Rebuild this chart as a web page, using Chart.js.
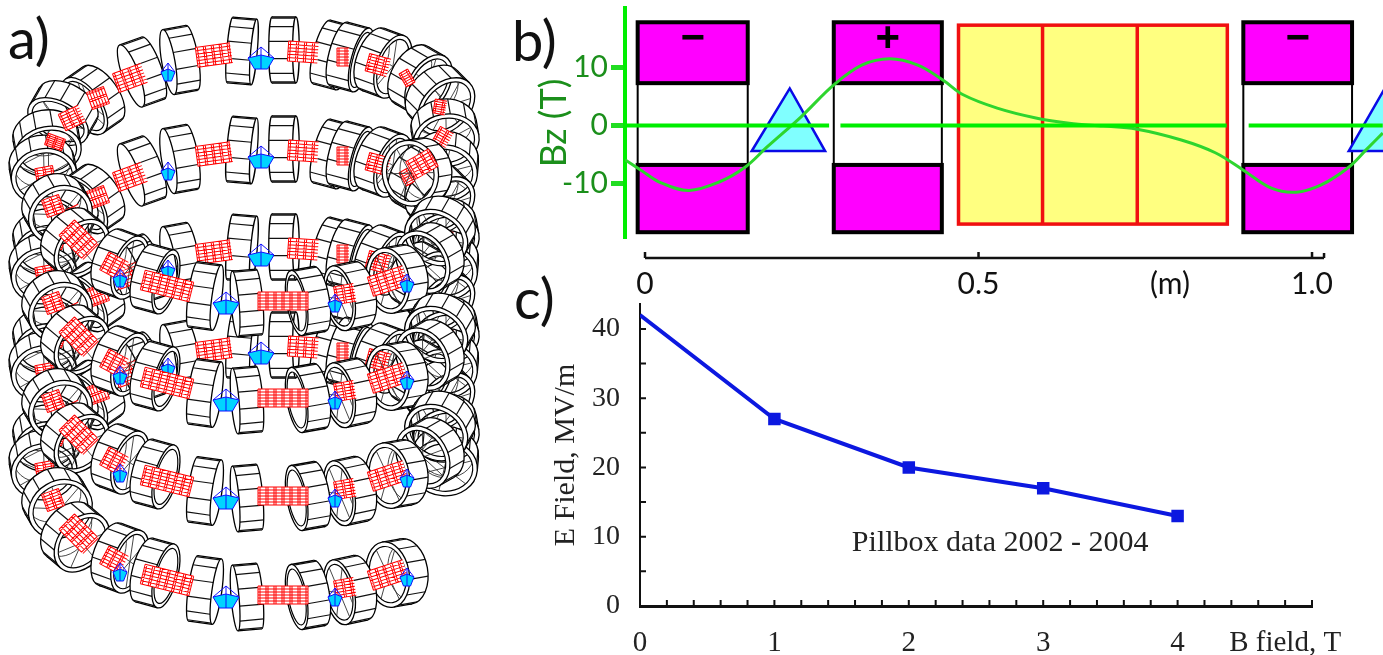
<!DOCTYPE html>
<html>
<head>
<meta charset="utf-8">
<title>Helical cooling channel</title>
<script src="https://cdn.jsdelivr.net/npm/chart.js@4/dist/chart.umd.min.js"></script>
<style>
    html, body { margin: 0; padding: 0; background: #fff; overflow: hidden; }
    canvas { position: absolute; }
    .panel { position: absolute; font: 56px Lato, sans-serif; color: #111; line-height: 1; }
</style>
</head>
<body>
<canvas id="helix" width="500" height="655" style="left:0;top:0"></canvas>
<canvas id="field" width="853" height="300" style="left:530px;top:0"></canvas>
<canvas id="gradient" width="853" height="365" style="left:530px;top:290px"></canvas>
<div class="panel" style="left:8px;top:10px">a)</div>
<div class="panel" style="left:512px;top:12px">b)</div>
<div class="panel" style="left:514px;top:270px">c)</div>
<script>
// Panel c: E field against B field
const bField = [0, 1, 2, 3, 4];
const eField = [42, 27, 20, 17, 13];
const eTicks = [0, 10, 20, 30, 40];
const eMinorTicks = [0, 5, 10, 15, 20, 25, 30, 35, 40];
const bTicks = [0, 1, 2, 3, 4, 4.8];
const bTickLabels = ['0', '1', '2', '3', '4', 'B field, T'];
const bMinorTicks = [0, 0.2, 0.4, 0.6, 0.8, 1, 1.2, 1.4, 1.6, 1.8, 2, 2.2, 2.4, 2.6, 2.8, 3, 3.2, 3.4, 3.6, 3.8, 4, 4.2, 4.4, 4.6, 4.8, 5];

// Panel b: on-axis Bz along one period, metres and tesla
const bzPos = [-0.03, -0.006, 0.024, 0.066, 0.112, 0.15, 0.183, 0.234, 0.283, 0.325, 0.367, 0.409, 0.447, 0.477, 0.528, 0.586, 0.636, 0.687, 0.736, 0.804, 0.855, 0.897, 0.939, 0.976, 1.013, 1.055, 1.081, 1.106];
const bzVal = [-5.9, -7.7, -9.9, -11.2, -9.7, -7.2, -3.7, 1.5, 7, 10.4, 11.5, 10.4, 7.8, 5.3, 3, 1.3, 0.4, -0.1, -0.6, -2.5, -4.7, -7.7, -10.8, -11.5, -10.3, -7.2, -4.2, -1.3];
const zeroLineX = [-0.03, 0.276, 0.285, 0.293, 0.872, 0.89, 0.905, 1.106];
const zeroLineY = [0, 0, null, 0, 0, null, 0, 0];
const bzTicks = [-10, 0, 10];
const posTicks = [0, 0.5, 0.787, 1];
const posTickLabels = ['0', '0.5', '(m)', '1.0'];
const rulerTicks = [0, 0.5, 1];
const magnetLeft = [-0.011, 0.283, 0.897];
const magnetRight = [0.154, 0.445, 1.06];
const magnetSigns = ['\u2212', '+', '\u2212'];
const magnetLevels = [17.8, 7.3, -6.8, -18.4];
const cavityEdges = [0.47, 0.596, 0.738, 0.873];
const cavityLevels = [17.3, -17];
const wedgeLeft = [0.16, 1.055];
const wedgeTip = [0.217, 1.109];
const wedgeRight = [0.27, 1.165];
const wedgeLevels = [6.4, -4.4];

// Panel a: coils, x and height relative to each row
const backRowY = [58, 157, 255, 353];
const frontRowY = [303, 400, 498, 597];
const backCoilX = [43, 47, 63, 93, 142, 180, 242, 284, 333, 350, 383, 420, 440, 445, 445];
const backCoilRise = [112, 85, 55, 42, 14, 2, -7, -8, -3, -1, 5, 22, 42, 75, 108];
const backCoilFace = [80, 80, 120, 145, 160, 170, 5, 0, 15, 15, 20, 30, 45, 80, 95];
const backCoilOpen = [0.85, 0.75, 0.6, 0.5, 0.25, 0.2, 0.1, 0.1, 0.25, 0.3, 0.5, 0.6, 0.7, 0.8, 0.85];
const frontCoilX = [57, 75, 120, 155, 205, 247, 308, 350, 397, 430, 440];
const frontCoilRise = [-94, -60, -39, -24, -7, 0, -2, -7, -24, -45, -72];
const frontCoilFace = [60, 40, 20, 15, 8, 175, 170, 168, 170, 150, 120];
const frontCoilOpen = [0.85, 0.7, 0.5, 0.35, 0.15, 0.12, 0.3, 0.45, 0.65, 0.75, 0.8];
const backTubeX = [45, 55, 72, 98, 130, 214, 303, 343, 378, 407, 440, 443];
const backTubeRise = [117, 84, 60, 40, 20, -3, -6, -1, 7, 20, 49, 79];
const backTubeLen = [18, 18, 22, 18, 30, 35, 30, 12, 22, 10, 12, 15];
const backTubeTilt = [-10, 20, -25, 70, -20, -8, 4, 0, 15, -30, 10, 30];
const backTubeWide = [16, 12, 18, 18, 20, 20, 20, 18, 18, 15, 14, 16];
const frontTubeX = [53, 78, 114, 167, 283, 345, 388];
const frontTubeRise = [-97, -64, -37, -17, -2, -9, -22];
const frontTubeLen = [18, 32, 22, 50, 50, 20, 37];
const frontTubeTilt = [-20, 45, 28, 14, 0, -10, -18];
const frontTubeWide = [18, 22, 20, 20, 18, 18, 20];
const backAbsorberX = [168, 261];
const backAbsorberRise = [14, 0];
const frontAbsorberX = [120, 226, 335, 407];
const frontAbsorberRise = [-25, 0, 0, -20];
const endRingX = [417];
const endRingY = [172];

const ink = '#000';

function toPoints(xs, ys) {
    return xs.map((x, i) => ({ x: x, y: ys[i] }));
}

function ellipsePath(ctx, x, y, major, minor, rot) {
    ctx.beginPath();
    ctx.ellipse(x, y, major, minor, rot, 0, Math.PI * 2);
}

// One short cylinder, visible face turned towards faceDeg. Open rings keep their hole see-through.
function drawCoil(ctx, x, y, faceDeg, open) {
    const a = faceDeg * Math.PI / 180;
    const rot = a + Math.PI / 2;
    const R = 33;
    const L = 11 * Math.sqrt(1 - open * open) + 1;
    const minor = Math.max(R * open, 2.5);
    const ux = Math.cos(a), uy = Math.sin(a);
    const vx = -uy, vy = ux;
    const fx = x + ux * L, fy = y + uy * L;
    const bx = x - ux * L, by = y - uy * L;
    const holeR = R * 0.86, holeM = minor * 0.84;

    ctx.save();
    if (open > 0.25) {
        ctx.beginPath();
        ctx.rect(0, 0, 500, 655);
        ctx.ellipse(fx, fy, holeR, holeM, rot, 0, Math.PI * 2);
        ctx.clip('evenodd');
    }
    ctx.lineWidth = 1.3;
    ctx.strokeStyle = ink;
    ctx.fillStyle = '#fff';
    ellipsePath(ctx, bx, by, R, minor, rot);
    ctx.fill(); ctx.stroke();
    ctx.beginPath();
    ctx.moveTo(bx + vx * R, by + vy * R);
    ctx.lineTo(fx + vx * R, fy + vy * R);
    ctx.lineTo(fx - vx * R, fy - vy * R);
    ctx.lineTo(bx - vx * R, by - vy * R);
    ctx.closePath();
    ctx.fill();
    ctx.beginPath();
    ctx.moveTo(bx + vx * R, by + vy * R);
    ctx.lineTo(fx + vx * R, fy + vy * R);
    ctx.moveTo(bx - vx * R, by - vy * R);
    ctx.lineTo(fx - vx * R, fy - vy * R);
    ctx.stroke();
    ctx.fillStyle = '#fff';
    ellipsePath(ctx, fx, fy, R, minor, rot);
    ctx.fill();
    ctx.strokeStyle = '#111';
    ctx.lineWidth = 1.2;
    ctx.beginPath();
    for (let k = 0; k < 12; k++) {
        const t = (k + 0.5) * Math.PI / 6;
        const along = Math.cos(t) * R;
        const across = Math.sin(t) * minor;
        if (across > 0) continue;
        const px = vx * along + ux * across;
        const py = vy * along + uy * across;
        ctx.moveTo(bx + px, by + py);
        ctx.lineTo(fx + px, fy + py);
    }
    ctx.stroke();
    ctx.strokeStyle = ink;
    ctx.lineWidth = 1.3;
    ellipsePath(ctx, fx, fy, R, minor, rot);
    ctx.stroke();
    ctx.restore();

    ctx.strokeStyle = ink;
    ctx.lineWidth = 1.2;
    if (open > 0.25) {
        ellipsePath(ctx, fx, fy, holeR, holeM, rot);
        ctx.stroke();
    }
    if (open > 0.4) {
        ctx.save();
        ellipsePath(ctx, fx, fy, holeR, holeM, rot);
        ctx.clip();
        ctx.strokeStyle = '#333';
        ctx.lineWidth = 0.9;
        ellipsePath(ctx, bx, by, holeR, holeM, rot);
        ctx.stroke();
        ctx.beginPath();
        for (let k = 0; k < 3; k++) {
            const t = k * Math.PI / 3 + 0.4;
            const ax = vx * Math.cos(t) * holeR + ux * Math.sin(t) * holeM;
            const ay = vy * Math.cos(t) * holeR + uy * Math.sin(t) * holeM;
            ctx.moveTo(fx + ax, fy + ay);
            ctx.lineTo(fx - ax, fy - ay);
        }
        ctx.stroke();
        ctx.restore();
    }
}

// Red meshed RF tube between two coils
function drawTube(ctx, x, y, len, tiltDeg, wide) {
    ctx.save();
    ctx.translate(x, y);
    ctx.rotate(tiltDeg * Math.PI / 180);
    ctx.fillStyle = '#fff';
    ctx.fillRect(-len / 2, -wide / 2, len, wide);
    ctx.strokeStyle = '#f00';
    ctx.lineWidth = 1;
    ctx.beginPath();
    for (let w = -wide / 2; w <= wide / 2 + 0.1; w += wide / 6) {
        ctx.moveTo(-len / 2, w);
        ctx.lineTo(len / 2, w);
    }
    for (let l = -len / 2; l <= len / 2 + 0.1; l += 8) {
        ctx.moveTo(l, -wide / 2);
        ctx.lineTo(l, wide / 2);
        ctx.moveTo(l + 2, -wide / 2);
        ctx.lineTo(l + 2, wide / 2);
    }
    ctx.stroke();
    ctx.restore();
}

function drawAbsorber(ctx, x, y, big) {
    const w = big ? 13 : 7, h = big ? 11 : 9;
    ctx.lineWidth = 1;
    ctx.strokeStyle = '#11f';
    ctx.fillStyle = '#00d4ff';
    ctx.beginPath();
    ctx.moveTo(x - w, y);
    ctx.lineTo(x - w * 0.5, y + h);
    ctx.lineTo(x + w * 0.5, y + h);
    ctx.lineTo(x + w, y);
    ctx.lineTo(x, y - 3);
    ctx.closePath();
    ctx.fill(); ctx.stroke();
    ctx.beginPath();
    ctx.moveTo(x - w, y);
    ctx.lineTo(x, y - h);
    ctx.lineTo(x + w, y);
    ctx.moveTo(x, y - h);
    ctx.lineTo(x, y + h);
    ctx.stroke();
}

const helixPlugin = {
    id: 'helixPlugin',
    afterDatasetsDraw(chart) {
        const ctx = chart.ctx;
        const xs = chart.scales.x, ys = chart.scales.y;
        const px = v => xs.getPixelForValue(v);
        const py = v => ys.getPixelForValue(v);
        ctx.save();
        backRowY.forEach(row => {
            backCoilX.map((x, i) => i)
                .sort((a, b) => Math.abs(backCoilX[a] - 262) - Math.abs(backCoilX[b] - 262))
                .forEach(i => drawCoil(ctx, px(backCoilX[i]), py(row + backCoilRise[i]), backCoilFace[i], backCoilOpen[i]));
            backTubeX.forEach((x, i) => drawTube(ctx, px(x), py(row + backTubeRise[i]), backTubeLen[i], backTubeTilt[i], backTubeWide[i]));
            backAbsorberX.forEach((x, i) => drawAbsorber(ctx, px(x), py(row + backAbsorberRise[i]), x === 261));
        });
        endRingX.forEach((x, i) => {
            drawCoil(ctx, px(x), py(endRingY[i]), 170, 0.85);
            drawTube(ctx, px(x + 5), py(endRingY[i] - 8), 26, -30, 20);
        });
        frontRowY.forEach((row, r) => {
            const count = r === frontRowY.length - 1 ? frontCoilX.length - 2 : frontCoilX.length;
            frontCoilX.slice(0, count).map((x, i) => i)
                .sort((a, b) => Math.abs(frontCoilX[b] - 226) - Math.abs(frontCoilX[a] - 226))
                .forEach(i => drawCoil(ctx, px(frontCoilX[i]), py(row + frontCoilRise[i]), frontCoilFace[i], frontCoilOpen[i]));
            frontTubeX.forEach((x, i) => drawTube(ctx, px(x), py(row + frontTubeRise[i]), frontTubeLen[i], frontTubeTilt[i], frontTubeWide[i]));
            frontAbsorberX.forEach((x, i) => drawAbsorber(ctx, px(x), py(row + frontAbsorberRise[i]), x === 226));
        });
        ctx.restore();
    }
};

new Chart(document.getElementById('helix'), {
    type: 'scatter',
    data: {
        datasets: [{
            data: toPoints(frontCoilX, frontCoilRise.map(r => r + frontRowY[3])),
            pointRadius: 0
        }]
    },
    options: {
        responsive: false,
        animation: false,
        events: [],
        layout: { padding: 0 },
        plugins: { legend: { display: false }, tooltip: { enabled: false } },
        scales: {
            x: { display: false, min: 0, max: 500 },
            y: { display: false, min: 0, max: 655, reverse: true }
        }
    },
    plugins: [helixPlugin]
});

const fieldPlugin = {
    id: 'fieldPlugin',
    beforeDatasetsDraw(chart) {
        const ctx = chart.ctx;
        const xs = chart.scales.x, ys = chart.scales.y;
        const px = v => xs.getPixelForValue(v);
        const py = v => ys.getPixelForValue(v);
        ctx.save();

        // magnets
        magnetLeft.forEach((left, i) => {
            const x0 = px(left), x1 = px(magnetRight[i]);
            const lv = magnetLevels.map(py);
            ctx.fillStyle = '#ff00ff';
            ctx.fillRect(x0, lv[0], x1 - x0, lv[1] - lv[0]);
            ctx.fillRect(x0, lv[2], x1 - x0, lv[3] - lv[2]);
            ctx.strokeStyle = '#000';
            ctx.lineWidth = 4;
            ctx.strokeRect(x0, lv[0], x1 - x0, lv[1] - lv[0]);
            ctx.strokeRect(x0, lv[2], x1 - x0, lv[3] - lv[2]);
            ctx.lineWidth = 2;
            ctx.strokeRect(x0, lv[1], x1 - x0, lv[2] - lv[1]);
            ctx.fillStyle = '#000';
            ctx.font = 'bold 42px "Liberation Sans"';
            ctx.textAlign = 'center';
            ctx.textBaseline = 'middle';
            ctx.fillText(magnetSigns[i], (x0 + x1) / 2, lv[0] + 17);
        });

        // yellow RF cavities
        const cx0 = px(cavityEdges[0]), cx1 = px(cavityEdges[3]);
        const cy0 = py(cavityLevels[0]), cy1 = py(cavityLevels[1]);
        ctx.fillStyle = '#ffff80';
        ctx.fillRect(cx0, cy0, cx1 - cx0, cy1 - cy0);
        ctx.strokeStyle = '#f01010';
        ctx.lineWidth = 3.5;
        ctx.strokeRect(cx0, cy0, cx1 - cx0, cy1 - cy0);
        ctx.beginPath();
        cavityEdges.slice(1, 3).forEach(e => {
            ctx.moveTo(px(e), cy0);
            ctx.lineTo(px(e), cy1);
        });
        ctx.stroke();

        // absorber wedges
        wedgeLeft.forEach((left, i) => {
            ctx.beginPath();
            ctx.moveTo(px(left), py(wedgeLevels[1]));
            ctx.lineTo(px(wedgeTip[i]), py(wedgeLevels[0]));
            ctx.lineTo(px(wedgeRight[i]), py(wedgeLevels[1]));
            ctx.closePath();
            ctx.fillStyle = '#80ffff';
            ctx.fill();
            ctx.strokeStyle = '#0a0ae6';
            ctx.lineWidth = 2.5;
            ctx.stroke();
        });

        // metre ruler under the panel
        const ry = chart.chartArea.bottom + 20;
        ctx.strokeStyle = '#111';
        ctx.lineWidth = 2.5;
        ctx.beginPath();
        ctx.moveTo(px(0), ry);
        ctx.lineTo(px(1.018), ry);
        rulerTicks.forEach(t => {
            ctx.moveTo(px(t), ry);
            ctx.lineTo(px(t), ry - 6);
        });
        ctx.moveTo(px(0), ry);
        ctx.lineTo(px(0), ry - 5);
        ctx.moveTo(px(1.018), ry);
        ctx.lineTo(px(1.018), ry - 5);
        ctx.stroke();
        ctx.restore();
    }
};

new Chart(document.getElementById('field'), {
    type: 'scatter',
    data: {
        datasets: [{
            data: toPoints(zeroLineX, zeroLineY),
            showLine: true,
            borderColor: '#00ee00',
            borderWidth: 4,
            pointRadius: 0,
            spanGaps: false
        }, {
            data: toPoints(bzPos, bzVal),
            showLine: true,
            borderColor: '#2ed52e',
            borderWidth: 3,
            pointRadius: 0,
            tension: 0.35
        }]
    },
    options: {
        responsive: false,
        animation: false,
        events: [],
        layout: { padding: { top: 8 } },
        plugins: { legend: { display: false }, tooltip: { enabled: false } },
        scales: {
            x: {
                min: -0.03,
                max: 1.1064,
                grid: { display: false },
                border: { display: false },
                afterFit: s => { s.height = 62; s.paddingLeft = 0; s.paddingRight = 0; },
                afterBuildTicks: s => { s.ticks = posTicks.map(v => ({ value: v })); },
                ticks: {
                    padding: 20,
                    autoSkip: false,
                    maxRotation: 0,
                    color: '#111',
                    font: { family: 'Lato', size: 30 },
                    callback: (v, i) => posTickLabels[i]
                }
            },
            y: {
                min: -19.4,
                max: 20.26,
                afterFit: s => { s.width = 95; s.paddingTop = 0; s.paddingBottom = 0; },
                afterBuildTicks: s => { s.ticks = bzTicks.map(v => ({ value: v })); },
                border: { color: '#00ee00', width: 4 },
                grid: { drawOnChartArea: false, color: '#22dd22', tickLength: 14, tickWidth: 5 },
                ticks: {
                    padding: 3,
                    color: '#1b8f1b',
                    font: { family: 'Lato', size: 30 },
                    callback: v => String(v)
                },
                title: {
                    display: true,
                    text: 'Bz (T)',
                    color: '#1b8f1b',
                    padding: { top: 3, bottom: 0 },
                    font: { family: 'Lato', size: 36 }
                }
            }
        }
    },
    plugins: [fieldPlugin]
});

const gradientPlugin = {
    id: 'gradientPlugin',
    afterDatasetsDraw(chart) {
        const ctx = chart.ctx;
        const xs = chart.scales.x, ys = chart.scales.y;
        const bottom = chart.chartArea.bottom, left = chart.chartArea.left;
        ctx.save();
        ctx.strokeStyle = '#111';
        ctx.lineWidth = 2;
        ctx.beginPath();
        eMinorTicks.forEach(v => {
            ctx.moveTo(left, ys.getPixelForValue(v));
            ctx.lineTo(left + 6, ys.getPixelForValue(v));
        });
        bMinorTicks.forEach(v => {
            ctx.moveTo(xs.getPixelForValue(v), bottom);
            ctx.lineTo(xs.getPixelForValue(v), bottom - 6);
        });
        ctx.stroke();
        ctx.fillStyle = '#222';
        ctx.font = '30px "Liberation Serif"';
        ctx.textAlign = 'center';
        ctx.textBaseline = 'middle';
        ctx.fillText('Pillbox data 2002 - 2004', xs.getPixelForValue(2.68), ys.getPixelForValue(9.1));
        ctx.restore();
    }
};

new Chart(document.getElementById('gradient'), {
    type: 'line',
    data: {
        datasets: [{
            data: toPoints(bField, eField),
            borderColor: '#0c18e0',
            backgroundColor: '#0c18e0',
            borderWidth: 4,
            tension: 0,
            pointStyle: 'rect',
            pointRadius: ctx => (ctx.dataIndex === 0 ? 0 : 6)
        }]
    },
    options: {
        responsive: false,
        animation: false,
        events: [],
        layout: { padding: { top: 14, right: 71 } },
        plugins: { legend: { display: false }, tooltip: { enabled: false } },
        scales: {
            x: {
                type: 'linear',
                min: 0,
                max: 5,
                afterFit: s => { s.height = 49; s.paddingLeft = 0; s.paddingRight = 0; },
                afterBuildTicks: s => { s.ticks = bTicks.map(v => ({ value: v })); },
                border: { color: '#111', width: 3 },
                grid: { display: false },
                ticks: {
                    padding: 12,
                    autoSkip: false,
                    maxRotation: 0,
                    color: '#222',
                    font: { family: 'Liberation Serif', size: 29 },
                    callback: (v, i) => bTickLabels[i]
                }
            },
            y: {
                min: 0,
                max: 43.6,
                afterFit: s => { s.width = 110; s.paddingTop = 0; s.paddingBottom = 0; },
                afterBuildTicks: s => { s.ticks = eTicks.map(v => ({ value: v })); },
                border: { color: '#111', width: 2 },
                grid: { display: false },
                ticks: {
                    padding: 12,
                    color: '#222',
                    font: { family: 'Liberation Serif', size: 28 },
                    callback: v => String(v)
                },
                title: {
                    display: true,
                    text: 'E Field, MV/m',
                    color: '#222',
                    padding: { top: 18, bottom: 0 },
                    font: { family: 'Liberation Serif', size: 30 }
                }
            }
        }
    },
    plugins: [gradientPlugin]
});
</script>
</body>
</html>
